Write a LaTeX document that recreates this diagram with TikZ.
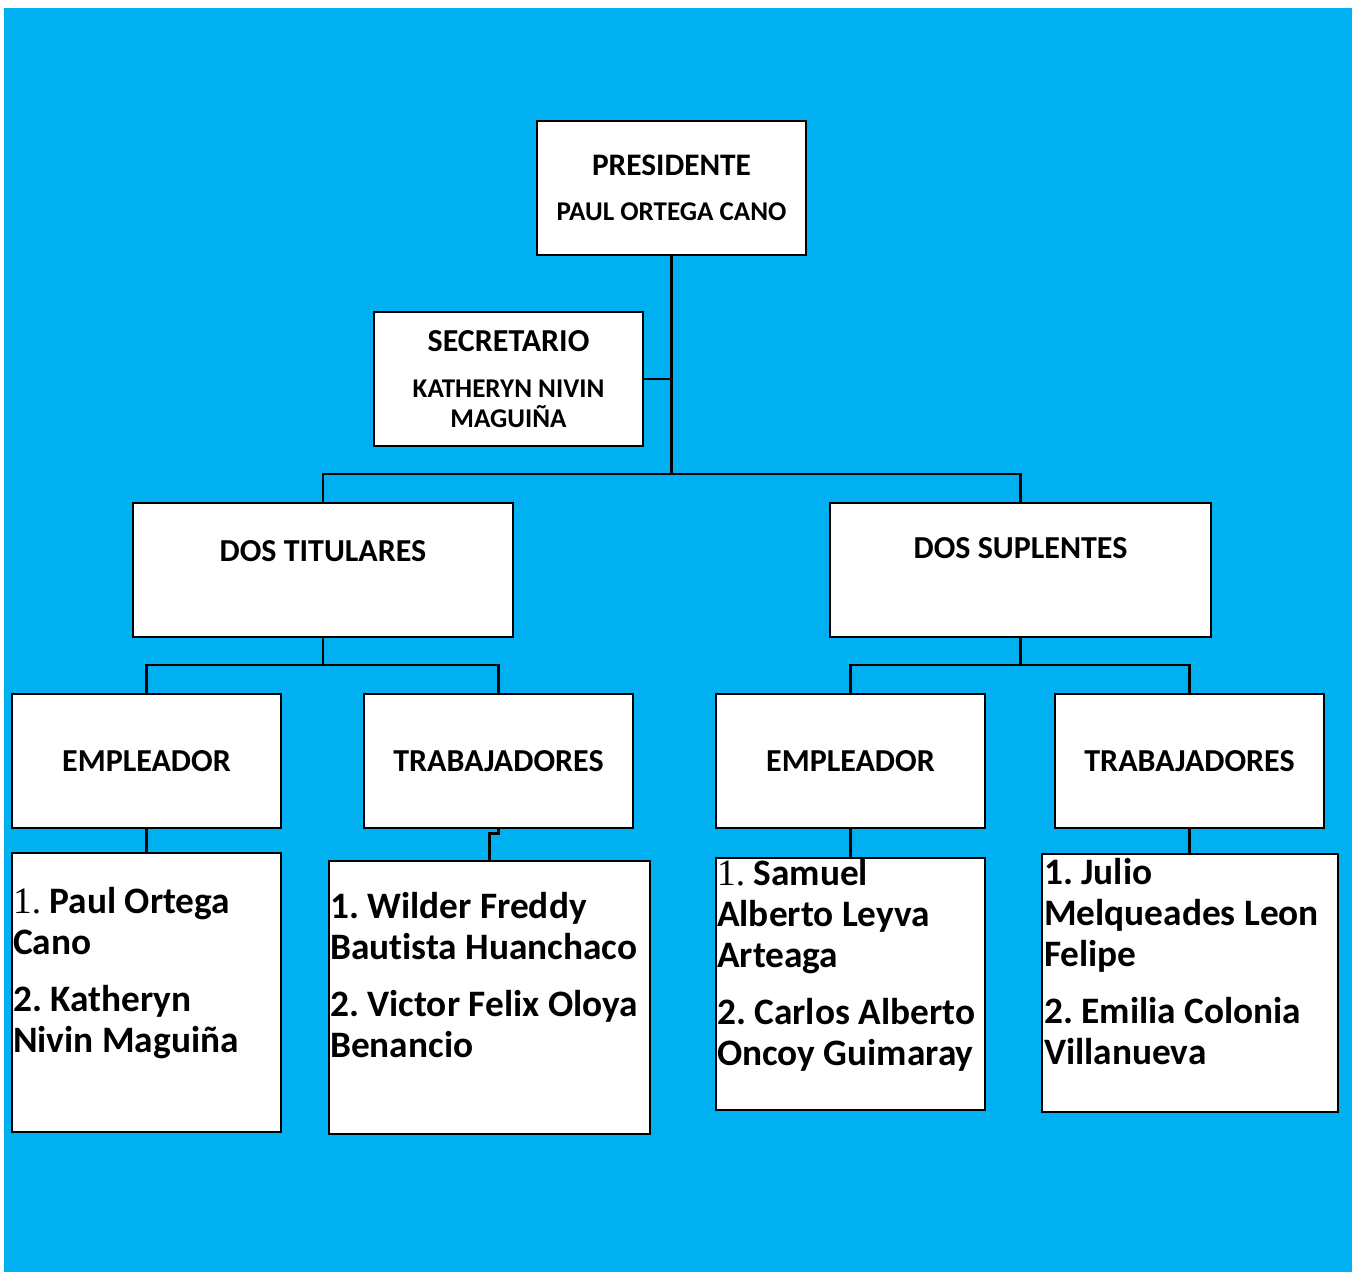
\documentclass[tikz,border=0pt]{standalone}
\usepackage{fontspec}
\setmainfont{Carlito}[Ligatures=NoCommon]
\newfontfamily\numfont{Liberation Serif}
\usetikzlibrary{positioning}
\frenchspacing

\definecolor{fondo}{RGB}{0,176,240}

\tikzset{every picture/.style={line width=0.75pt}}
\tikzset{
  caja/.style={draw, fill=white, line width=2pt, inner sep=0pt,
    minimum width=201.75pt, minimum height=100.5pt, align=center,
    font=\bfseries\fontsize{24}{29}\selectfont},
  jefe/.style={caja, font=\bfseries\fontsize{20.3}{22}\selectfont},
  titulo/.style={inner sep=0pt, font=\bfseries\fontsize{24}{29}\selectfont},
  lista/.style={inner sep=0pt, align=left,
    font=\bfseries\fontsize{28}{30.75}\selectfont},
  linea/.style={line width=2.2pt},
}

\begin{document}
\begin{tikzpicture}[x=0.75pt,y=0.75pt,yscale=-1,xscale=1]
\useasboundingbox (0,0) rectangle (1360,1272);
%Shape: Background
\fill[fondo] (4,8) rectangle (1352,1272);

%Shape: top boxes
\node[jefe] (pres) at (671.5,188) {{\fontsize{23.5}{26}\selectfont PRESIDENTE}\\[11.75pt]PAUL ORTEGA CANO};
\node[jefe] (secr) at (508.5,379) {{\fontsize{24}{26}\selectfont SECRETARIO}\\[12.5pt]KATHERYN NIVIN\\MAGUIÑA};

%Shape: groups
\node[caja, minimum width=285pt] (tit) at (323,570) {};
\node[caja, minimum width=285.75pt] (sup) at (1020.5,570) {};
\node[titulo, below=28.5pt of tit.north] (titT) {DOS TITULARES};
\node[titulo, below=26.25pt of sup.north] (supT) {DOS SUPLENTES};

%Shape: second level
\node[caja] (empI) at (146.5,761) {EMPLEADOR};
\node[caja] (trabI) at (498.5,761) {TRABAJADORES};
\node[caja] (empD) at (850.5,761) {EMPLEADOR};
\node[caja] (trabD) at (1189.5,761) {TRABAJADORES};

%Shape: name lists
\node[caja, minimum height=209.25pt] (listaI1) at (146.5,992.5) {};
\node[caja, minimum width=240.75pt, minimum height=204.75pt] (listaI2) at (489.5,997.5) {};
\node[caja, minimum height=189pt] (listaD1) at (850.5,984) {};
\node[caja, minimum width=222pt, minimum height=193.5pt] (listaD2) at (1190,983) {};

% Text Node
\node[lista, below right=26.5pt and 1.5pt of listaI1.north west] (nomI1)
  {{\numfont\mdseries 1.} Paul Ortega\\Cano\\[12pt]2. Katheryn\\Nivin Maguiña};
% Text Node
\node[lista, below right=24.2pt and 1.5pt of listaI2.north west] (nomI2)
  {1. Wilder Freddy\\Bautista Huanchaco\\[12pt]2. Victor Felix Oloya\\Benancio};
% Text Node
\node[lista, below right=1.7pt and 1.5pt of listaD1.north west] (nomD1)
  {{\numfont\mdseries 1.} Samuel\\Alberto Leyva\\Arteaga\\[12pt]2. Carlos Alberto\\Oncoy Guimaray};
% Text Node
\node[lista, below right=4pt and 2.25pt of listaD2.north west] (nomD2)
  {1. Julio\\Melqueades Leon\\Felipe\\[12pt]2. Emilia Colonia\\Villanueva};

%Straight Lines
\coordinate (bus1) at (671.5,474);
\coordinate (bus2) at (323,665);
\coordinate (bus3) at (1020.5,665);
\draw[linea] (pres.south) -- (bus1);
\draw[linea] (secr.east) -- (secr.east -| pres.south);
\draw[linea] (tit.north) |- (bus1) -| (sup.north);
\draw[linea] (tit.south) -- (bus2);
\draw[linea] (empI.north) |- (bus2) -| (trabI.north);
\draw[linea] (sup.south) -- (bus3);
\draw[linea] (empD.north) |- (bus3) -| (trabD.north);
\draw[linea] (empI.south) -- (listaI1.north);
\draw[linea] (trabI.south) -- ++(0,4) -| (listaI2.north);
\draw[linea] (empD.south) -- (listaD1.north);
\draw[linea] (trabD.south) -- (trabD.south |- listaD2.north);

\end{tikzpicture}
\end{document}
